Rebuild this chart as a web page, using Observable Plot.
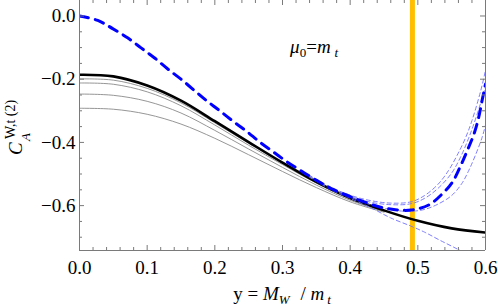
<!DOCTYPE html>
<html><head><meta charset="utf-8">
<script src="https://cdn.jsdelivr.net/npm/d3@7"></script>
<script src="https://cdn.jsdelivr.net/npm/@observablehq/plot@0.6"></script>
<style>
body{margin:0;background:#fff}
svg{display:block}
#chart svg text, #chart svg tspan {font-family: "Liberation Serif", "Times New Roman", "DejaVu Serif", serif !important;}
</style>
</head><body><div id="chart"></div>
<script>
// ---- data ----
const xMajor = [0, 0.1, 0.2, 0.3, 0.4, 0.5, 0.6];
const yMajor = [0, -0.2, -0.4, -0.6];
const xMinor = [0.02,0.04,0.06,0.08,0.12,0.14,0.16,0.18,0.22,0.24,0.26,0.28,0.32,0.34,0.36,0.38,0.42,0.44,0.46,0.48,0.52,0.54,0.56,0.58];
const yMinor = [-0.05,-0.1,-0.15,-0.25,-0.3,-0.35,-0.45,-0.5,-0.55,-0.65,-0.7];

const blackX = [0, 0.05, 0.1, 0.15, 0.2, 0.25, 0.3, 0.35, 0.4, 0.45, 0.5, 0.55, 0.6];
const blackY = [-0.186, -0.191, -0.220, -0.268, -0.333, -0.399, -0.464, -0.525, -0.576, -0.615, -0.648, -0.672, -0.685];

const greyX = [0, 0.05, 0.1, 0.15, 0.2, 0.25, 0.3, 0.35, 0.4, 0.45];
const grey1 = [-0.199, -0.203, -0.229, -0.275, -0.338, -0.403, -0.466, -0.526, -0.577, -0.616];
const grey2 = [-0.212, -0.216, -0.240, -0.284, -0.345, -0.409, -0.470, -0.529, -0.579, -0.617];
const grey3 = [-0.247, -0.251, -0.270, -0.307, -0.362, -0.421, -0.479, -0.535, -0.583, -0.619];
const grey4 = [-0.292, -0.295, -0.311, -0.342, -0.387, -0.439, -0.492, -0.543, -0.588, -0.621];

const blueX = [0, 0.027, 0.049, 0.071, 0.091, 0.111, 0.130, 0.150, 0.170, 0.189, 0.208, 0.228, 0.247, 0.267, 0.287, 0.307, 0.329, 0.351, 0.373, 0.396, 0.418, 0.445, 0.467, 0.490, 0.516, 0.536, 0.551, 0.563, 0.573, 0.583, 0.590, 0.595, 0.600];
const blueY = [0, -0.014, -0.040, -0.069, -0.101, -0.133, -0.167, -0.200, -0.236, -0.270, -0.301, -0.335, -0.365, -0.400, -0.431, -0.462, -0.492, -0.521, -0.547, -0.568, -0.586, -0.605, -0.613, -0.614, -0.598, -0.563, -0.526, -0.475, -0.426, -0.373, -0.320, -0.267, -0.215];

const thin1X = [0.33, 0.37, 0.40, 0.43, 0.46, 0.49, 0.51, 0.53, 0.545, 0.558, 0.570, 0.580, 0.593, 0.6];
const thin1Y = [-0.492, -0.540, -0.567, -0.584, -0.592, -0.588, -0.568, -0.532, -0.490, -0.441, -0.388, -0.331, -0.236, -0.172];
const thin2X = [0.33, 0.37, 0.40, 0.43, 0.46, 0.49, 0.51, 0.53, 0.55, 0.563, 0.575, 0.587, 0.6];
const thin2Y = [-0.493, -0.542, -0.570, -0.589, -0.597, -0.594, -0.577, -0.545, -0.497, -0.447, -0.387, -0.315, -0.225];
const thin3X = [0.33, 0.37, 0.40, 0.43, 0.45, 0.47, 0.49, 0.51, 0.53, 0.55, 0.565, 0.575, 0.585, 0.595, 0.6];
const thin3Y = [-0.495, -0.545, -0.573, -0.597, -0.608, -0.616, -0.618, -0.612, -0.595, -0.568, -0.530, -0.490, -0.441, -0.384, -0.345];
const thin4X = [0.33, 0.37, 0.40, 0.43, 0.46, 0.49, 0.51, 0.533, 0.558, 0.575];
const thin4Y = [-0.497, -0.548, -0.577, -0.606, -0.639, -0.665, -0.684, -0.710, -0.737, -0.757];

const markerX = [0.492];

// ---- layout ----
const W = 498, H = 307, ml = 79, mr = 13, mt = 0, mb = 57;
const xDom = [0, 0.6], yDom = [-0.742, 0.049];
const kx = (xDom[1] - xDom[0]) / (W - ml - mr);
const ky = (yDom[1] - yDom[0]) / (H - mt - mb);
const frameColor = "#7a7a7a";
const fam = "'Liberation Serif', 'Times New Roman', 'DejaVu Serif', serif";
const pts = (xs, ys) => xs.map((x, i) => ({x, y: ys[i]}));

const greys = [grey1, grey2, grey3, grey4];
const thins = [[thin1X, thin1Y], [thin2X, thin2Y], [thin3X, thin3Y], [thin4X, thin4Y]];

const tickMarks = (vals, len) => [
  Plot.ruleX(vals, {x: d => d, y1: yDom[0], y2: yDom[0] + len * ky, stroke: frameColor}),
  Plot.ruleX(vals, {x: d => d, y1: yDom[1], y2: yDom[1] - len * ky, stroke: frameColor}),
];
const tickMarksY = (vals, len) => [
  Plot.ruleY(vals, {y: d => d, x1: xDom[0], x2: xDom[0] + len * kx, stroke: frameColor}),
  Plot.ruleY(vals, {y: d => d, x1: xDom[1], x2: xDom[1] - len * kx, stroke: frameColor}),
];

const chart = Plot.plot({
  width: W, height: H,
  marginLeft: ml, marginRight: mr, marginTop: mt, marginBottom: mb,
  x: {domain: xDom, ticks: xMajor, tickFormat: d3.format(".1f"), tickSize: 0, tickPadding: 10, label: null},
  y: {domain: yDom, ticks: yMajor, tickFormat: d3.format(".1f"), tickSize: 0, tickPadding: 4, label: null},
  style: {fontFamily: fam, fontSize: "19px", background: "white", color: "black"},
  marks: [
    Plot.ruleX(markerX, {x: d => d, stroke: "#ffbf00", strokeWidth: 5}),
    ...greys.map(g => Plot.line(pts(greyX, g), {x: "x", y: "y", stroke: "#8a8a8a", strokeWidth: 0.9, curve: "catmull-rom", clip: true})),
    Plot.line(pts(blackX, blackY), {x: "x", y: "y", stroke: "black", strokeWidth: 2.6, curve: "catmull-rom", clip: true}),
    ...thins.map(([tx, ty]) => Plot.line(pts(tx, ty), {x: "x", y: "y", stroke: "#6f6fff", strokeWidth: 0.9, strokeDasharray: "4,3", curve: "catmull-rom", clip: true})),
    Plot.line(pts(blueX, blueY), {x: "x", y: "y", stroke: "#0000ff", strokeWidth: 3, strokeDasharray: "9,7", curve: "catmull-rom", clip: true}),
    Plot.ruleX(xDom, {x: d => d, stroke: frameColor}),
    Plot.ruleY([yDom[0]], {y: d => d, stroke: frameColor}),
    ...tickMarks(xMajor, 5), ...tickMarks(xMinor, 3),
    ...tickMarksY(yMajor, 5), ...tickMarksY(yMinor, 3),
  ]
});
document.getElementById("chart").appendChild(chart);

// ---- rich-text labels ----
const sx = chart.scale("x"), sy = chart.scale("y");
const svg = d3.select(chart);

function rich(x, y, parts, opts = {}) {
  const t = svg.append("text").attr("x", x).attr("y", y)
    .attr("font-family", fam).attr("font-size", 19).attr("fill", "black")
    .attr("text-anchor", opts.anchor || "start");
  for (const p of parts) {
    const s = t.append("tspan").text(p.t);
    if (p.i) s.attr("font-style", "italic");
    if (p.size) s.attr("font-size", p.size);
    if (p.dy) s.attr("dy", p.dy);
    if (p.dx) s.attr("dx", p.dx);
  }
  return t;
}

// annotation μ0 = m_t
rich(sx.apply(0.312), sy.apply(-0.1187), [
  {t: "μ", i: true}, {t: "0", size: 13, dy: 4}, {t: "=", dy: -4}, {t: "m", i: true}, {t: "t", i: true, size: 13, dy: 4, dx: 4}
]);

// x axis title
rich((ml + W - mr) / 2, 300, [
  {t: "y = "}, {t: "M", i: true}, {t: "W", i: true, size: 13, dy: 4}, {t: " / ", dy: -4, dx: 6}, {t: "m", i: true}, {t: "t", i: true, size: 13, dy: 4, dx: 3}
], {anchor: "middle"});

// y axis title (three stacked pieces)
const ylab = (tx, ty, size, italic, txt) => svg.append("text")
  .attr("transform", `translate(${tx},${ty}) rotate(-90)`)
  .attr("text-anchor", "start").attr("font-family", fam).attr("font-size", size)
  .attr("font-style", italic ? "italic" : "normal").attr("fill", "black").text(txt);
ylab(22, 155, 19, true, "C");
ylab(30, 141, 13, true, "A");
ylab(15, 139, 14, false, "W,t (2)");
</script>
</body></html>
